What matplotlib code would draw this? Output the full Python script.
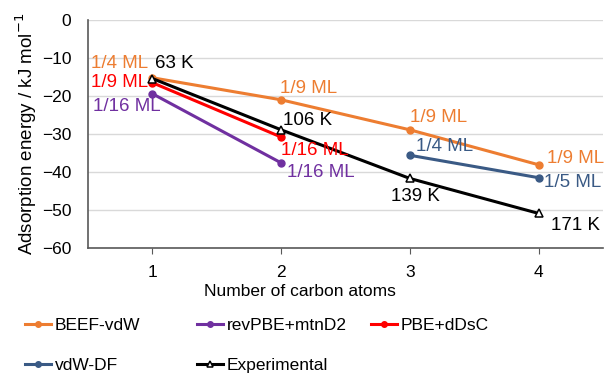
import numpy as np
import matplotlib
matplotlib.use("Agg")
import matplotlib.pyplot as plt

plt.rcParams['font.family'] = ['Liberation Sans', 'DejaVu Sans']
plt.rcParams['font.size'] = 12

# data
beef_x = [1, 2, 3, 4]
beef_y = [-15.2, -21.0, -28.9, -38.1]
revpbe_x = [1, 2]
revpbe_y = [-19.4, -37.6]
pbe_x = [1, 2]
pbe_y = [-16.5, -30.8]
vdwdf_x = [3, 4]
vdwdf_y = [-35.6, -41.5]
exp_x = [1, 2, 3, 4]
exp_y = [-15.4, -28.9, -41.7, -50.9]

beef_labels = ["1/4 ML", "1/9 ML", "1/9 ML", "1/9 ML"]
revpbe_labels = ["1/16 ML", "1/16 ML"]
pbe_labels = ["1/9 ML", "1/16 ML"]
vdwdf_labels = ["1/4 ML", "1/5 ML"]
exp_labels = ["63 K", "106 K", "139 K", "171 K"]

C_BEEF = '#ED7D31'
C_REV = '#7030A0'
C_PBE = '#FF0000'
C_VDW = '#3A5A85'
C_EXP = '#000000'

fig = plt.figure(figsize=(6.05, 3.74), dpi=100)
ax = fig.add_axes([88 / 605, 1 - 248 / 374, 515 / 605, 228 / 374])

lw = 2.2
h_beef, = ax.plot(beef_x, beef_y, color=C_BEEF, lw=lw, marker='o', ms=5, label='BEEF-vdW')
h_rev, = ax.plot(revpbe_x, revpbe_y, color=C_REV, lw=lw, marker='o', ms=5, label='revPBE+mtnD2')
h_pbe, = ax.plot(pbe_x, pbe_y, color=C_PBE, lw=lw, marker='o', ms=5, label='PBE+dDsC')
h_vdw, = ax.plot(vdwdf_x, vdwdf_y, color=C_VDW, lw=lw, marker='o', ms=5, label='vdW-DF')
h_exp, = ax.plot(exp_x, exp_y, color=C_EXP, lw=lw, marker='^', ms=6, mfc='white',
                 mec='black', mew=1.1, label='Experimental')

FS = 13.5


def lab(x, y, s, color, dx, dy, ha='left'):
    ax.annotate(s, (x, y), xytext=(dx, dy), textcoords='offset points',
                ha=ha, va='center', color=color, fontsize=FS)


# coverage / temperature labels
lab(beef_x[0], beef_y[0], beef_labels[0], C_BEEF, -3, 10.5, 'right')
lab(beef_x[1], beef_y[1], beef_labels[1], C_BEEF, -1, 8.4)
lab(beef_x[2], beef_y[2], beef_labels[2], C_BEEF, 0, 8.6)
lab(beef_x[3], beef_y[3], beef_labels[3], C_BEEF, 5.8, 4.8)

lab(pbe_x[0], pbe_y[0], pbe_labels[0], C_PBE, -3, 0, 'right')
lab(pbe_x[1], pbe_y[1], pbe_labels[1], C_PBE, 0, -9.4)

lab(revpbe_x[0], revpbe_y[0], revpbe_labels[0], C_REV, 6, -9, 'right')
lab(revpbe_x[1], revpbe_y[1], revpbe_labels[1], C_REV, 4.3, -7.2)

lab(vdwdf_x[0], vdwdf_y[0], vdwdf_labels[0], C_VDW, 4.3, 6)
lab(vdwdf_x[1], vdwdf_y[1], vdwdf_labels[1], C_VDW, 3.6, -3.8)

lab(exp_x[0], exp_y[0], exp_labels[0], C_EXP, 2, 11)
lab(exp_x[1], exp_y[1], exp_labels[1], C_EXP, 1.5, 7)
lab(exp_x[2], exp_y[2], exp_labels[2], C_EXP, 4.3, -12.7, 'center')
lab(exp_x[3], exp_y[3], exp_labels[3], C_EXP, 8.6, -8.4)

ax.set_xlim(0.5, 4.5)
ax.set_ylim(-60, 0)
ax.set_xticks([1, 2, 3, 4])
ax.set_yticks(np.arange(-60, 1, 10))
ax.yaxis.grid(True, color='#D9D9D9', lw=1)
ax.set_axisbelow(True)
for s in ['top', 'right']:
    ax.spines[s].set_visible(False)
for s in ['left', 'bottom']:
    ax.spines[s].set_color('#595959')
    ax.spines[s].set_linewidth(1.2)
ax.tick_params(axis='y', length=0, pad=12, labelsize=12.5)
ax.tick_params(axis='x', length=4, color='#595959', direction='out', pad=8, labelsize=12.5)
ax.set_xlabel('Number of carbon atoms', fontsize=12.5)
ax.xaxis.set_label_coords((300 - 88) / 515, -36 / 228)
ax.set_ylabel('Adsorption energy / kJ mol$^{-1}$', fontsize=13.5, labelpad=2)

# legend: three fixed columns below the axes
columns = [([h_beef, h_vdw], 25), ([h_rev, h_exp], 197), ([h_pbe], 371)]
for handles, xpix in columns:
    fig.legend(handles=handles, labels=[h.get_label() for h in handles],
               loc='upper left', bbox_to_anchor=(xpix / 605, 1 - 318 / 374),
               frameon=False, fontsize=12.5, handlelength=1.5, handletextpad=0.2,
               labelspacing=1.45, borderaxespad=0, borderpad=0, markerscale=0.8)

fig.savefig('out.png', dpi=100)
